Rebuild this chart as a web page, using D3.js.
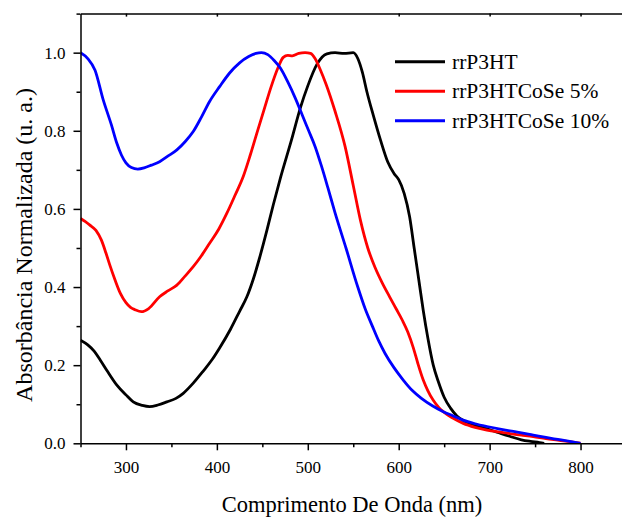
<!DOCTYPE html>
<html>
<head>
<meta charset="utf-8">
<script src="https://cdn.jsdelivr.net/npm/d3@7"></script>
<style>
  html, body { margin: 0; padding: 0; background: #fff; overflow: hidden; }
  svg { display: block; }
  text { font-family: "Liberation Serif", "DejaVu Serif", serif; }
</style>
</head>
<body>
<svg id="chart" width="622" height="517"></svg>
<script>
// UV-Vis normalized absorbance spectra (wavelength in nm, normalized absorbance)
const seriesNames = ["rrP3HT", "rrP3HTCoSe 5%", "rrP3HTCoSe 10%"];
const seriesColors = ["#000000", "#ff0000", "#0000ff"];

const p3htWavelength = [250, 258, 265, 272, 280, 290, 300, 308, 318, 326, 335, 345, 355, 363, 374, 385, 395, 403, 415, 425, 433, 440, 447, 455, 462, 470, 482, 492, 500, 510, 521, 530, 540, 550, 555, 560, 565, 572, 580, 588, 595, 600, 606, 612, 617, 622, 627, 632, 638, 644, 650, 657, 664, 672, 683, 697, 710, 722, 735, 745, 755, 760];
const p3htAbs =        [0.264, 0.252, 0.236, 0.212, 0.183, 0.149, 0.124, 0.106, 0.097, 0.094, 0.098, 0.106, 0.115, 0.128, 0.154, 0.185, 0.215, 0.244, 0.292, 0.338, 0.375, 0.42, 0.475, 0.545, 0.61, 0.68, 0.776, 0.86, 0.915, 0.97, 0.997, 1.0, 0.998, 1.0, 0.985, 0.95, 0.9, 0.84, 0.776, 0.72, 0.69, 0.675, 0.64, 0.58, 0.5, 0.42, 0.34, 0.27, 0.2, 0.155, 0.118, 0.09, 0.07, 0.057, 0.046, 0.037, 0.027, 0.018, 0.009, 0.005, 0.002, 0.0];

const coSe5Wavelength = [250, 255, 260, 267, 273, 278, 282, 288, 294, 300, 305, 310, 317, 325, 337, 346, 356, 365, 374, 383, 392, 402, 411, 420, 429, 437, 444, 452, 460, 467, 473, 478, 483, 490, 497, 503, 508, 514, 520, 530, 541, 550, 558, 566, 574, 582, 590, 597, 604, 610, 616, 621, 627, 632, 638, 644, 649, 660, 671, 684, 697, 710, 722, 735, 748, 762, 775, 788, 800];
const coSe5Abs =        [0.576, 0.568, 0.559, 0.545, 0.52, 0.487, 0.458, 0.418, 0.383, 0.36, 0.348, 0.342, 0.337, 0.345, 0.375, 0.39, 0.405, 0.428, 0.452, 0.48, 0.512, 0.548, 0.589, 0.635, 0.683, 0.74, 0.794, 0.855, 0.915, 0.96, 0.988, 0.993, 0.992, 0.998, 1.0, 0.998, 0.985, 0.955, 0.92, 0.85, 0.76, 0.66, 0.57, 0.5, 0.45, 0.41, 0.375, 0.345, 0.315, 0.285, 0.245, 0.205, 0.162, 0.135, 0.11, 0.092, 0.081, 0.064, 0.051, 0.041, 0.034, 0.029, 0.025, 0.021, 0.017, 0.012, 0.008, 0.004, 0.0];

const coSe10Wavelength = [250, 258, 266, 275, 284, 290, 295, 300, 306, 313, 320, 328, 337, 346, 356, 365, 374, 383, 392, 403, 414, 425, 435, 443, 449, 456, 463, 470, 478, 486, 494, 501, 508, 515, 522, 530, 542, 555, 563, 571, 578, 585, 595, 605, 615, 625, 637, 649, 660, 670, 684, 697, 710, 722, 735, 748, 762, 775, 788, 800];
const coSe10Abs =        [1.0, 0.985, 0.955, 0.879, 0.815, 0.768, 0.738, 0.718, 0.706, 0.702, 0.705, 0.712, 0.721, 0.735, 0.751, 0.772, 0.798, 0.835, 0.875, 0.913, 0.948, 0.974, 0.99, 0.998, 1.0, 0.995, 0.98, 0.96, 0.925, 0.885, 0.84, 0.8, 0.76, 0.71, 0.655, 0.59, 0.5, 0.4, 0.345, 0.3, 0.262, 0.23, 0.193, 0.162, 0.135, 0.115, 0.096, 0.081, 0.07, 0.06, 0.05, 0.043, 0.037, 0.032, 0.027, 0.021, 0.015, 0.01, 0.005, 0.0];

const xTicks = [300, 400, 500, 600, 700, 800];
const xMinorTicks = [250, 350, 450, 550, 650, 750, 850];
const yTicks = [0.0, 0.2, 0.4, 0.6, 0.8, 1.0];
const yMinorTicks = [0.1, 0.3, 0.5, 0.7, 0.9, 1.1];

const xTitle = "Comprimento De Onda (nm)";
const yTitle = "Absorbância Normalizada (u. a.)";

const seriesData = [
  p3htWavelength.map((w, i) => [w, p3htAbs[i]]),
  coSe5Wavelength.map((w, i) => [w, coSe5Abs[i]]),
  coSe10Wavelength.map((w, i) => [w, coSe10Abs[i]])
];

const serif = '"Liberation Serif", "DejaVu Serif", serif';
const svg = d3.select("#chart");
const frame = { left: 80.5, top: 13.6, right: 626, bottom: 443.3 };

const x = d3.scaleLinear().domain([250, 850]).range([frame.left, frame.right]);
const y = d3.scaleLinear().domain([0, 1.1]).range([frame.bottom, frame.top]);

svg.append("defs").append("clipPath").attr("id", "plotClip")
  .append("rect")
  .attr("x", frame.left).attr("y", frame.top - 4)
  .attr("width", frame.right - frame.left).attr("height", frame.bottom - frame.top + 4);

// spectra
const line = d3.line()
  .x(d => x(d[0]))
  .y(d => y(d[1]))
  .curve(d3.curveMonotoneX);

const curves = svg.append("g").attr("clip-path", "url(#plotClip)");
seriesData.forEach((data, i) => {
  curves.append("path")
    .datum(data)
    .attr("fill", "none")
    .attr("stroke", seriesColors[i])
    .attr("stroke-width", 2.8)
    .attr("stroke-linejoin", "round")
    .attr("d", line);
});

// axes
const fmtY = d3.format(".1f");

function styleAxis(g) {
  g.attr("font-family", serif).attr("font-size", 17);
  g.select(".domain").attr("stroke", "#000").attr("stroke-width", 1.5);
  g.selectAll(".tick line").attr("stroke", "#000").attr("stroke-width", 1.5);
  g.selectAll(".tick text").attr("fill", "#000");
}

// bottom
svg.append("g")
  .attr("transform", `translate(0,${frame.bottom})`)
  .call(d3.axisBottom(x).tickValues(xTicks).tickSize(7).tickPadding(11).tickFormat(d3.format("d")).tickSizeOuter(0))
  .call(styleAxis);
svg.append("g")
  .attr("transform", `translate(0,${frame.bottom})`)
  .call(d3.axisBottom(x).tickValues(xMinorTicks).tickSize(4).tickFormat("").tickSizeOuter(0))
  .call(styleAxis)
  .select(".domain").remove();

// top mirror, ticks pointing inward
svg.append("g")
  .attr("transform", `translate(0,${frame.top})`)
  .call(d3.axisTop(x).tickValues(xTicks).tickSize(-3).tickFormat("").tickSizeOuter(0))
  .call(styleAxis);

// left
svg.append("g")
  .attr("transform", `translate(${frame.left},0)`)
  .call(d3.axisLeft(y).tickValues(yTicks).tickSize(7).tickPadding(8).tickFormat(fmtY).tickSizeOuter(0))
  .call(styleAxis);
svg.append("g")
  .attr("transform", `translate(${frame.left},0)`)
  .call(d3.axisLeft(y).tickValues(yMinorTicks).tickSize(4).tickFormat("").tickSizeOuter(0))
  .call(styleAxis)
  .select(".domain").remove();

// axis titles
svg.append("text")
  .attr("x", 352)
  .attr("y", 511.5)
  .attr("text-anchor", "middle")
  .attr("font-family", serif)
  .attr("font-size", 22.5)
  .attr("fill", "#000")
  .text(xTitle);

svg.append("text")
  .attr("transform", "translate(31.5,245) rotate(-90)")
  .attr("text-anchor", "middle")
  .attr("font-family", serif)
  .attr("font-size", 24)
  .attr("fill", "#000")
  .text(yTitle);

// legend
const legend = svg.append("g");
const legendX0 = 395, legendX1 = 445, legendY0 = 61.7, legendStep = 29.5;
seriesNames.forEach((name, i) => {
  const ly = legendY0 + i * legendStep;
  legend.append("line")
    .attr("x1", legendX0).attr("x2", legendX1)
    .attr("y1", ly).attr("y2", ly)
    .attr("stroke", seriesColors[i])
    .attr("stroke-width", 3);
  legend.append("text")
    .attr("x", legendX1 + 7)
    .attr("y", ly + 7)
    .attr("font-family", serif)
    .attr("font-size", 21.5)
    .attr("fill", "#000")
    .text(name);
});
</script>
</body>
</html>
